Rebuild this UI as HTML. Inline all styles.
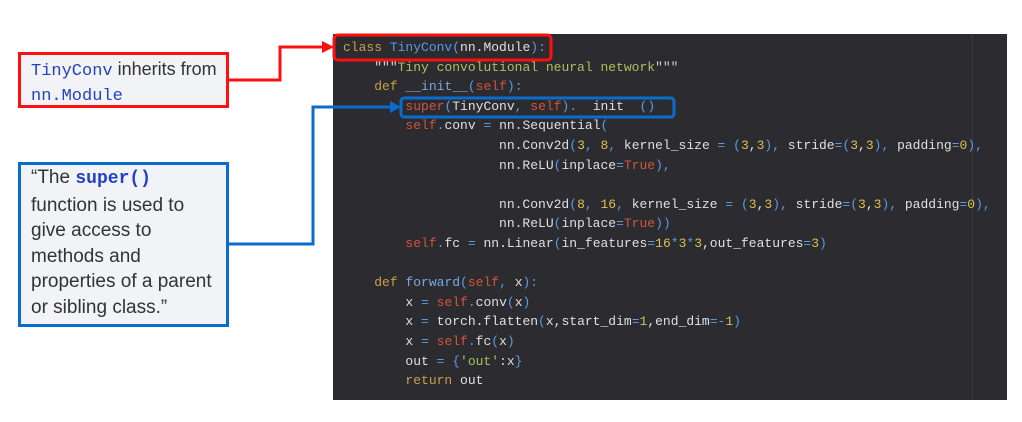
<!DOCTYPE html>
<html><head><meta charset="utf-8"><style>
body{margin:0;width:1022px;height:422px;background:#fff;position:relative;overflow:hidden;font-family:"Liberation Sans",sans-serif}
#code{position:absolute;left:333px;top:34px;width:674px;height:366px;background:#2b2b30}
#gut{position:absolute;left:972px;top:34px;width:1px;height:366px;background:#3a3a40}
pre{position:absolute;left:343px;top:38px;margin:0;font-family:"Liberation Mono",monospace;font-size:13px;line-height:19.6px;color:#e0e0e0;letter-spacing:0;font-weight:500}
.k{color:#c9a04a}.s{color:#d2553a}.b{color:#5a9be0}.n{color:#d8c050}.g{color:#a8c060}.f{color:#7aa7e0}
.box{position:absolute;background:#f2f3f7;box-sizing:border-box;color:#333;font-size:19px;line-height:26px}
.m{font-family:"Liberation Mono",monospace;color:#2540c8;font-size:17px}
</style></head><body>
<div id="code"></div><div id="gut"></div>
<pre><span class="k">class</span> <span class="b">TinyConv(</span>nn.Module<span class="b">):</span>
    <span class="g"><span style="color:#d4d4d4">"""</span>Tiny convolutional neural network<span style="color:#d4d4d4">"""</span></span>
    <span class="k">def</span> <span class="f">__init__</span><span class="b">(</span><span class="s">self</span><span class="b">):</span>
        <span class="s">super</span><span class="b">(</span>TinyConv<span class="b">,</span> <span class="s">self</span><span class="b">).</span>  init  <span class="b">()</span>
        <span class="s">self</span><span class="b">.</span>conv <span class="b">=</span> nn.Sequential<span class="b">(</span>
                    nn.Conv2d<span class="b">(</span><span class="n">3</span><span class="b">,</span> <span class="n">8</span><span class="b">,</span> kernel_size <span class="b">= (</span><span class="n">3</span>,<span class="n">3</span><span class="b">),</span> stride<span class="b">=(</span><span class="n">3</span>,<span class="n">3</span><span class="b">),</span> padding<span class="b">=</span><span class="n">0</span><span class="b">),</span>
                    nn.ReLU<span class="b">(</span>inplace<span class="b">=</span><span class="s">True</span><span class="b">),</span>

                    nn.Conv2d<span class="b">(</span><span class="n">8</span><span class="b">,</span> <span class="n">16</span><span class="b">,</span> kernel_size <span class="b">= (</span><span class="n">3</span>,<span class="n">3</span><span class="b">),</span> stride<span class="b">=(</span><span class="n">3</span>,<span class="n">3</span><span class="b">),</span> padding<span class="b">=</span><span class="n">0</span><span class="b">),</span>
                    nn.ReLU<span class="b">(</span>inplace<span class="b">=</span><span class="s">True</span><span class="b">))</span>
        <span class="s">self</span><span class="b">.</span>fc <span class="b">=</span> nn.Linear<span class="b">(</span>in_features<span class="b">=</span><span class="n">16</span><span class="b">*</span><span class="n">3</span><span class="b">*</span><span class="n">3</span>,out_features<span class="b">=</span><span class="n">3</span><span class="b">)</span>

    <span class="k">def</span> <span class="f">forward</span><span class="b">(</span><span class="s">self</span><span class="b">,</span> x<span class="b">):</span>
        x <span class="b">=</span> <span class="s">self</span><span class="b">.</span>conv<span class="b">(</span>x<span class="b">)</span>
        x <span class="b">=</span> torch.flatten<span class="b">(</span>x,start_dim<span class="b">=</span><span class="n">1</span>,end_dim<span class="b">=-</span><span class="n">1</span><span class="b">)</span>
        x <span class="b">=</span> <span class="s">self</span><span class="b">.</span>fc<span class="b">(</span>x<span class="b">)</span>
        out <span class="b">= {</span><span class="g">'out'</span>:x<span class="b">}</span>
        <span class="k">return</span> out</pre>
<svg width="1022" height="422" style="position:absolute;left:0;top:0">
<rect x="334" y="35" width="217" height="25" rx="4" fill="none" stroke="#ff1010" stroke-width="3"/>
<rect x="401" y="98" width="273" height="19" rx="3" fill="none" stroke="#0a6ccc" stroke-width="3"/>
<polyline points="228,80 280,80 280,47 324,47" fill="none" stroke="#ff1010" stroke-width="3"/>
<polygon points="322,41 334,47 322,53" fill="#ff1010"/>
<polyline points="228,244 313,244 313,107 392,107" fill="none" stroke="#0a6ccc" stroke-width="3"/>
<polygon points="390,101 401,107 390,113" fill="#0a6ccc"/>
</svg>
<div class="box" style="left:18px;top:52px;width:211px;height:56px;border:3px solid #ff1010;padding:3px 0 0 10px;line-height:23px;font-size:18px"><span class="m">TinyConv</span> inherits from<br><span class="m">nn.Module</span></div>
<div class="box" style="left:18px;top:162px;width:211px;height:165px;border:3px solid #0a6ccc;padding:0 0 0 10px;line-height:25.5px">“The <span class="m" style="font-weight:bold;font-size:18px">super()</span><br>function is used to<br>give access to<br>methods and<br>properties of a parent<br>or sibling class.”</div>
</body></html>
